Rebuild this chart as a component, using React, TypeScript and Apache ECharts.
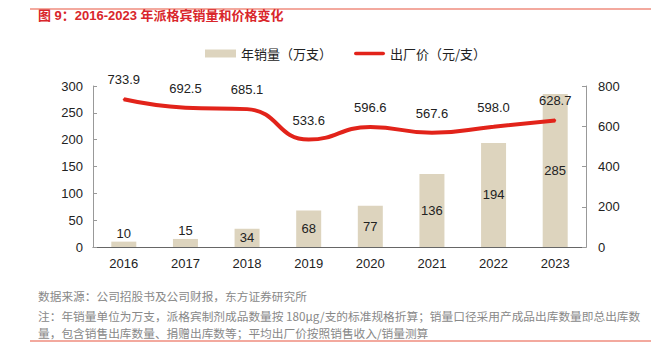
import React, { useEffect, useRef } from "react";
import * as echarts from "echarts";

const categories = ["2016", "2017", "2018", "2019", "2020", "2021", "2022", "2023"];
const salesVolume = [10, 15, 34, 68, 77, 136, 194, 285];
const factoryPrice = [733.9, 692.5, 685.1, 533.6, 596.6, 567.6, 598.0, 628.7];
const smallBarLabelTop = [true, true, false, false, false, false, false, false];

const titleText = "图 9：2016-2023 年派格宾销量和价格变化";
const sourceText = "数据来源：公司招股书及公司财报，东方证券研究所";
const noteLine1 = "注：年销量单位为万支，派格宾制剂成品数量按 180μg/支的标准规格折算；销量口径采用产成品出库数量即总出库数";
const noteLine2 = "量，包含销售出库数量、捐赠出库数等；平均出厂价按照销售收入/销量测算";

const FONT = "'Liberation Sans', Arial, 'Noto Sans CJK SC', sans-serif";
const CJK = "'Noto Sans CJK SC', 'Liberation Sans', sans-serif";

export default function App() {
  const ref = useRef<HTMLDivElement>(null);
  useEffect(() => {
    document.body.style.margin = "0";
    if (!ref.current) return;
    const chart = echarts.init(ref.current, null, { renderer: "svg" });
    const barData = salesVolume.map((v, i) => ({
      value: v,
      label: { position: smallBarLabelTop[i] ? "top" : "inside", distance: 2 },
    }));
    chart.setOption({
      animation: false,
      textStyle: { fontFamily: FONT },
      legend: {
        top: 42,
        left: 200,
        itemWidth: 31,
        itemHeight: 8,
        itemGap: 22,
        textStyle: { fontFamily: CJK, fontSize: 13, color: "#222" },
        data: [
          { name: "年销量（万支）", icon: "rect" },
          {
            name: "出厂价（元/支）",
            icon: "path://M2 0 H33 A2 2 0 0 1 33 4 H2 A2 2 0 0 1 2 0 Z",
            itemStyle: { color: "#E2231A" },
          },
        ],
      },
      grid: { left: 93, right: 73, top: 86, bottom: 105 },
      xAxis: {
        type: "category",
        data: categories,
        axisLine: { lineStyle: { color: "#666", width: 1 } },
        axisTick: { inside: true, length: 4, lineStyle: { color: "#888" } },
        axisLabel: { fontSize: 13, color: "#222", margin: 10, fontFamily: FONT },
      },
      yAxis: [
        {
          type: "value",
          min: 0,
          max: 300,
          interval: 50,
          splitLine: { show: false },
          axisLine: { show: true, lineStyle: { color: "#999" } },
          axisTick: { show: true, inside: true, length: 4, lineStyle: { color: "#999" } },
          axisLabel: { fontSize: 13, color: "#222", margin: 10, fontFamily: FONT },
        },
        {
          type: "value",
          min: 0,
          max: 800,
          interval: 200,
          splitLine: { show: false },
          axisLine: { show: true, lineStyle: { color: "#999" } },
          axisTick: { show: true, inside: true, length: 4, lineStyle: { color: "#999" } },
          axisLabel: { fontSize: 13, color: "#222", margin: 12, fontFamily: FONT },
        },
      ],
      series: [
        {
          name: "年销量（万支）",
          type: "bar",
          yAxisIndex: 0,
          barWidth: 25,
          data: barData,
          itemStyle: { color: "#DDD4BE" },
          label: { show: true, fontSize: 13, color: "#222", fontFamily: FONT },
          z: 1,
        },
        {
          name: "出厂价（元/支）",
          type: "line",
          yAxisIndex: 1,
          data: factoryPrice,
          smooth: 0.5,
          showSymbol: true,
          symbol: "circle",
          symbolSize: 2,
          lineStyle: { color: "#E2231A", width: 4 },
          itemStyle: { color: "#E2231A" },
          label: {
            show: true,
            position: "top",
            distance: 12,
            fontSize: 13,
            color: "#222",
            fontFamily: FONT,
            formatter: (p: any) => Number(p.value).toFixed(1),
          },
          z: 3,
        },
      ],
      graphic: [
        { type: "line", shape: { x1: 30, y1: 9, x2: 651, y2: 9 }, style: { stroke: "#E8543F", lineWidth: 1.2 } },
        {
          type: "text",
          left: 38,
          top: 9,
          style: { text: titleText, font: `bold 13px ${FONT}`, fill: "#D9262B" },
        },
        {
          type: "text",
          left: 38,
          top: 290,
          style: { text: sourceText, font: `11.7px ${CJK}`, fill: "#888" },
        },
        {
          type: "text",
          left: 38,
          top: 310,
          style: { text: noteLine1, font: `11.7px ${CJK}`, fill: "#888" },
        },
        {
          type: "text",
          left: 38,
          top: 327,
          style: { text: noteLine2, font: `11.7px ${CJK}`, fill: "#888" },
        },
        { type: "line", shape: { x1: 30, y1: 341, x2: 651, y2: 341 }, style: { stroke: "#E8543F", lineWidth: 1.2 } },
      ],
    });
    return () => chart.dispose();
  }, []);
  return <div ref={ref} style={{ width: 659, height: 352 }} />;
}
